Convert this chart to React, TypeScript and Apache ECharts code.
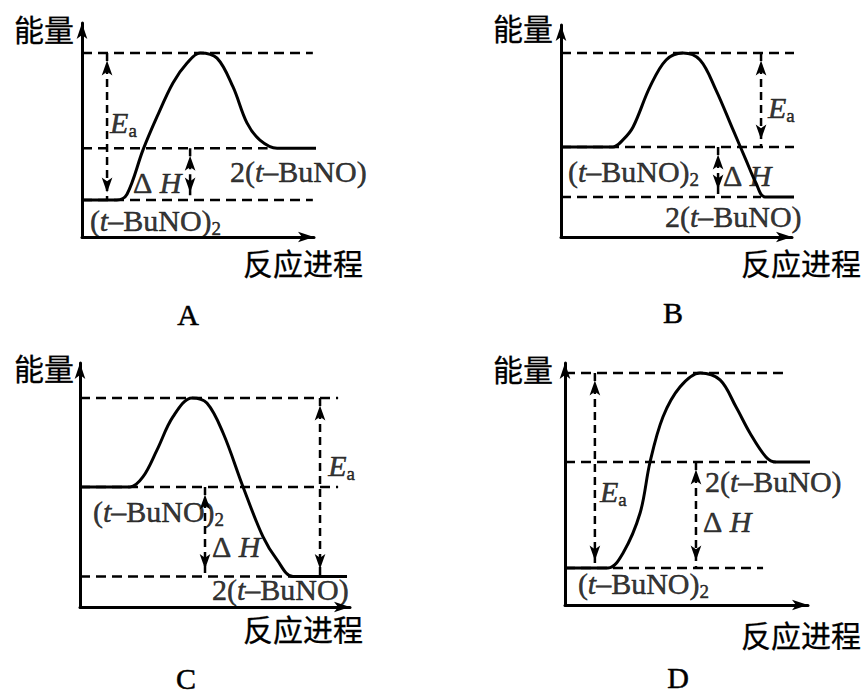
import React, { useEffect, useRef } from 'react';
import * as echarts from 'echarts';

// ---- data (energy in arbitrary units 0-100, reaction progress 0-100) ----
const panelLetters = ['A', 'B', 'C', 'D'];
const yAxisName = '能量';
const xAxisName = '反应进程';

const reactantEnergy = [17.3, 42.5, 49.2, 15.3];
const productEnergy = [41.5, 18.9, 12.5, 59.1];
const peakEnergy = [86, 86.8, 85.7, 95.9];

const curveA = [[0, 17.3], [15, 17.3], [19.4, 20], [26.3, 40.7], [32.3, 56.1], [39.2, 72], [45.3, 81.3], [50.9, 86], [58.2, 83.6], [65.1, 70.1], [71.1, 53.3], [76.7, 45.3], [84.1, 41.5], [103.4, 41.5]];
const curveB = [[0, 42.5], [22.5, 42.5], [26.8, 45.8], [31.2, 51.9], [38.5, 70.8], [45.5, 83.5], [52.8, 86.8], [60.2, 83.5], [67.1, 69.3], [74.5, 50.5], [80.1, 36.3], [84.4, 25.5], [88.3, 18.9], [104.8, 18.9]];
const curveC = [[0, 49.2], [18.5, 49.2], [23.3, 53.3], [28.5, 64.3], [34.4, 77.9], [41.5, 85.7], [47, 83.6], [53, 71.3], [60.4, 49.2], [67.8, 28.7], [73, 19.3], [78.9, 12.5], [98.9, 12.5]];
const curveD = [[0, 15.3], [17.7, 15.3], [23.9, 21.5], [30.9, 38], [35, 59.1], [40.3, 77.7], [47.3, 90.1], [55.6, 95.9], [63.8, 93], [70.4, 81.8], [76.1, 71.1], [82.7, 61.2], [86.8, 59.1], [105.3, 59.1]];
const curves = [curveA, curveB, curveC, curveD];

// right ends of the dashed level lines
const peakLineEnd = [99.5, 104, 95.6, 89.7];
const reactantLineEnd = [99.5, 104, 95.6, 81.5];
const productLineEnd = [80, 86.6, 78.9, 86.8];

// arrows: x position; Ea lower end level
const eaArrowX = [10.8, 86.6, 88.9, 12.3];
const eaBase = ['reactant', 'reactant', 'product', 'reactant'];
const dhArrowX = [46.6, 68, 46.3, 53.9];

// label anchors (left edge, vertical centre)
const eaLabelPos = [[12.1, 53.7], [89.6, 61.3], [91.9, 57.8], [14.4, 46.7]];
const dhLabelPos = [[22, 25.7], [70.1, 28.8], [48.9, 24.6], [56.8, 34.3]];
const reactantLabelPos = [[3.4, 7.9], [3, 30.7], [4.8, 39.3], [5.3, 8.7]];
const productLabelPos = [[63.8, 30.8], [45, 9.9], [48.9, 7], [57.6, 51.2]];

const labelEa = '{i|E}{s|a}';
const labelDH = '{n|Δ }{i|H}';
const labelReactant = '{n|(}{i|t}{n|–BuNO)}{s|2}';
const labelProduct = '{n|2(}{i|t}{n|–BuNO)}';

// ---- layout ----
const SERIF = '"Liberation Serif", "Times New Roman", serif';
const CJK = '"Noto Sans CJK SC", sans-serif';
const grids = [
  { left: 82, top: 23, width: 232, height: 214 },
  { left: 561, top: 25, width: 231, height: 212 },
  { left: 80, top: 363, width: 270, height: 244 },
  { left: 565, top: 363, width: 243, height: 242 },
];
const xNameGap = [49, 69, 13, 53];
const xNamePadTop = [10, 10, 6, 14];
const yNameGap = [-5, -2, -4, -5];
const yNamePadRight = [8, 8, 6, 12];
const letterPos = [[188, 314], [673, 312], [186, 678], [678, 677]];

export default function App() {
  const ref = useRef<HTMLDivElement>(null);
  useEffect(() => {
    document.body.style.margin = '0';
    if (!ref.current) return;
    const chart = echarts.init(ref.current, undefined, { renderer: 'svg' });
    const ink = { color: '#000', textBorderColor: '#000', textBorderWidth: 0.5 };
    const rich = {
      n: { ...ink, fontFamily: SERIF, fontSize: 30, lineHeight: 30, verticalAlign: 'middle' },
      i: { ...ink, fontFamily: SERIF, fontSize: 30, lineHeight: 30, fontStyle: 'italic', verticalAlign: 'middle' },
      s: { ...ink, fontFamily: SERIF, fontSize: 19, lineHeight: 14, verticalAlign: 'middle', padding: [16, 0, 0, 0] },
    };
    const axisLine = {
      show: true,
      onZero: false,
      symbol: ['none', 'arrow'],
      symbolSize: [8, 16],
      lineStyle: { color: '#000', width: 3 },
    };
    const xAxis: any[] = [];
    const yAxis: any[] = [];
    const series: any[] = [];
    const dash = [10, 6];
    const nameStyle = { fontFamily: CJK, fontSize: 30, lineHeight: 30, color: '#000', textBorderColor: '#000', textBorderWidth: 0.3 };
    for (let p = 0; p < 4; p++) {
      xAxis.push({
        gridIndex: p, type: 'value', min: 0, max: 100,
        axisLine, axisTick: { show: false }, axisLabel: { show: false }, splitLine: { show: false },
        name: xAxisName, nameLocation: 'end', nameGap: xNameGap[p],
        nameTextStyle: { ...nameStyle, align: 'right', verticalAlign: 'top', padding: [xNamePadTop[p], 0, 0, 0] },
      });
      yAxis.push({
        gridIndex: p, type: 'value', min: 0, max: 100,
        axisLine, axisTick: { show: false }, axisLabel: { show: false }, splitLine: { show: false },
        name: yAxisName, nameLocation: 'end', nameGap: yNameGap[p],
        nameTextStyle: { ...nameStyle, align: 'right', verticalAlign: 'middle', padding: [0, yNamePadRight[p], 0, 0] },
      });
      const base = { xAxisIndex: p, yAxisIndex: p, clip: false, silent: true };
      const levelLine = (y: number, xEnd: number) => ({
        ...base, type: 'line', showSymbol: false, symbol: 'none',
        data: [[0, y], [xEnd, y]],
        lineStyle: { color: '#000', width: 2.5, type: dash },
        z: 2,
      });
      series.push(levelLine(peakEnergy[p], peakLineEnd[p]));
      series.push(levelLine(reactantEnergy[p], reactantLineEnd[p]));
      series.push(levelLine(productEnergy[p], productLineEnd[p]));
      series.push({
        ...base, type: 'line', showSymbol: false, symbol: 'none', smooth: 0.35,
        data: curves[p], lineStyle: { color: '#000', width: 3 }, z: 3,
      });
      const arrow = (x: number, yTop: number, yBot: number) => ({
        ...base, type: 'line', showSymbol: true, symbol: 'arrow', symbolSize: [8, 15],
        itemStyle: { color: '#000' },
        lineStyle: { color: '#000', width: 2.5, type: [8, 5] },
        data: [
          { value: [x, yTop], symbolRotate: 0, symbolOffset: [0, 7.5] },
          { value: [x, yBot], symbolRotate: 180, symbolOffset: [0, -7.5] },
        ],
        z: 4,
      });
      const eaLow = eaBase[p] === 'product' ? productEnergy[p] : reactantEnergy[p];
      series.push(arrow(eaArrowX[p], peakEnergy[p], eaLow));
      const dhTop = Math.max(reactantEnergy[p], productEnergy[p]);
      const dhBot = Math.min(reactantEnergy[p], productEnergy[p]);
      series.push(arrow(dhArrowX[p], dhTop, dhBot));
      const texts = [labelEa, labelDH, labelReactant, labelProduct];
      const positions = [eaLabelPos[p], dhLabelPos[p], reactantLabelPos[p], productLabelPos[p]];
      series.push({
        ...base, type: 'scatter', symbolSize: 0,
        data: positions.map((v) => ({ value: v })),
        label: {
          show: true, position: 'right', distance: 0, color: '#000',
          formatter: (prm: any) => texts[prm.dataIndex],
          rich,
        },
        z: 5,
      });
    }
    const graphic = panelLetters.map((t, i) => ({
      type: 'text', x: letterPos[i][0], y: letterPos[i][1],
      style: { text: t, font: `30px ${SERIF}`, fill: '#000', stroke: '#000', lineWidth: 0.5, align: 'center', verticalAlign: 'middle' },
    }));
    chart.setOption({
      animation: false,
      backgroundColor: '#fff',
      grid: grids.map((g) => ({ ...g, containLabel: false })),
      xAxis, yAxis, series, graphic,
    });
    return () => chart.dispose();
  }, []);
  return <div ref={ref} style={{ width: 866, height: 693 }} />;
}
